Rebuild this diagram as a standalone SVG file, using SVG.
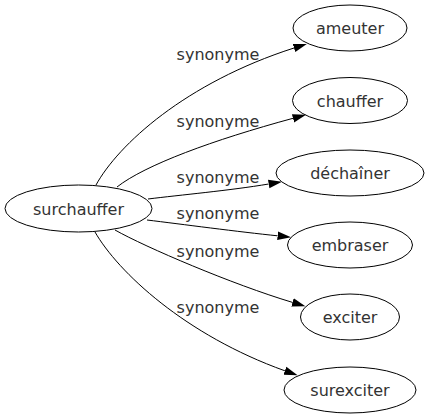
<svg xmlns="http://www.w3.org/2000/svg" width="429" height="419" viewBox="0 0 429 419">
<style>
  .node ellipse { fill: none; stroke: #000; stroke-width: 1; }
  text { font-family: "DejaVu Sans", Verdana, sans-serif; font-size: 16px; fill: #333; text-anchor: middle; }
  .edge path { fill: none; stroke: #000; stroke-width: 1; }
</style>
<defs>
  <marker id="arrow" markerUnits="userSpaceOnUse" markerWidth="14" markerHeight="10" refX="0" refY="4" orient="auto" viewBox="0 0 13 8">
    <polygon points="0,0 12.5,4 0,8" fill="#000"/>
  </marker>
</defs>
<rect width="429" height="419" fill="#fff"/>
<g id="connectors" class="edge">
  <path d="M96,185 C118,145 185,83 294,48" marker-end="url(#arrow)"/>
  <path d="M117,187 C145,165 213,140 293,118.3" marker-end="url(#arrow)"/>
  <path d="M148,199 C180,195 230,190.5 268.7,184" marker-end="url(#arrow)"/>
  <path d="M147,220 C180,224 240,232 277.6,235.8" marker-end="url(#arrow)"/>
  <path d="M115,230 C145,247 232.5,284.4 292.5,302.4" marker-end="url(#arrow)"/>
  <path d="M95,232 C118,272 185,335 284.9,370.8" marker-end="url(#arrow)"/>
  <text x="218" y="59.5">synonyme</text>
  <text x="218" y="127">synonyme</text>
  <text x="218" y="182.5">synonyme</text>
  <text x="218" y="219">synonyme</text>
  <text x="218" y="257">synonyme</text>
  <text x="218" y="312.5">synonyme</text>
</g>
<g id="surchauffer" class="node">
  <ellipse cx="78.5" cy="208.5" rx="73.5" ry="23.5"/>
  <text x="78.5" y="214.5">surchauffer</text>
</g>
<g id="ameuter" class="node">
  <ellipse cx="350" cy="28" rx="57" ry="23"/>
  <text x="350" y="34">ameuter</text>
</g>
<g id="chauffer" class="node">
  <ellipse cx="350" cy="100.5" rx="57.5" ry="23"/>
  <text x="350" y="106.5">chauffer</text>
</g>
<g id="dechainer" class="node">
  <ellipse cx="350" cy="173" rx="74" ry="23"/>
  <text x="350" y="179">déchaîner</text>
</g>
<g id="embraser" class="node">
  <ellipse cx="350" cy="245" rx="62.5" ry="23"/>
  <text x="350" y="251">embraser</text>
</g>
<g id="exciter" class="node">
  <ellipse cx="350" cy="317" rx="49.5" ry="23"/>
  <text x="350" y="323">exciter</text>
</g>
<g id="surexciter" class="node">
  <ellipse cx="350" cy="390" rx="66" ry="23"/>
  <text x="350" y="396">surexciter</text>
</g>
</svg>
